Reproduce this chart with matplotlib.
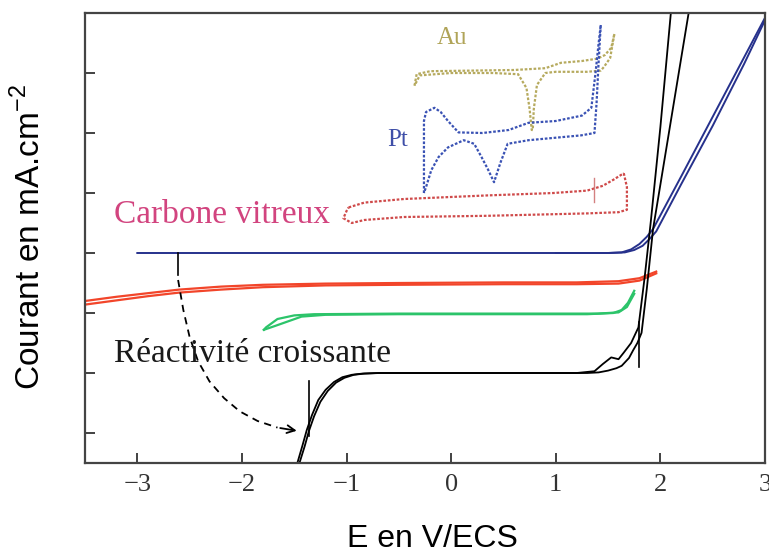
import matplotlib.pyplot as plt

plt.rcParams['mathtext.fontset'] = 'custom'
plt.rcParams['mathtext.rm'] = 'Liberation Sans'

# main curves: E (V/ECS) vs current (tick units)
blue_fwd_e = [-3.0, 0.0, 1.0, 1.5, 1.63, 1.72, 1.80, 1.87, 1.93, 2.2, 2.5, 2.8, 3.0]
blue_fwd_i = [3.0, 3.0, 3.0, 3.0, 3.01, 3.06, 3.15, 3.27, 3.40, 4.28, 5.27, 6.26, 6.92]
blue_rev_e = [3.0, 2.8, 2.5, 2.2, 1.96, 1.90, 1.83, 1.75, 1.66, 1.5, 1.0]
blue_rev_i = [6.88, 6.15, 5.12, 4.15, 3.36, 3.24, 3.12, 3.05, 3.01, 3.0, 3.0]

red_fwd_e = [-3.5, -3.2, -2.9, -2.6, -2.2, -1.8, -1.2, -0.5, 0.5, 1.2, 1.6, 1.8, 1.96]
red_fwd_i = [2.20, 2.27, 2.33, 2.39, 2.44, 2.47, 2.49, 2.50, 2.51, 2.51, 2.53, 2.58, 2.69]
red_rev_e = [1.96, 1.8, 1.6, 1.2, 0.5, -0.5, -1.2, -1.8, -2.2, -2.6, -2.9, -3.2, -3.5]
red_rev_i = [2.66, 2.54, 2.49, 2.48, 2.48, 2.47, 2.46, 2.43, 2.39, 2.34, 2.28, 2.21, 2.14]

green_fwd_e = [-1.79, -1.69, -1.56, -1.43, -1.2, -0.5, 0.5, 1.3, 1.55, 1.63, 1.69, 1.75]
green_fwd_i = [1.72, 1.78, 1.86, 1.94, 1.97, 1.98, 1.98, 1.98, 2.0, 2.05, 2.17, 2.37]
green_rev_e = [1.75, 1.68, 1.6, 1.4, 0.5, -0.5, -1.31, -1.50, -1.66, -1.77, -1.79]
green_rev_i = [2.32, 2.1, 2.01, 1.99, 1.99, 1.99, 1.98, 1.96, 1.90, 1.76, 1.72]

black_a_e = [-1.47, -1.42, -1.38, -1.33, -1.27, -1.2, -1.12, -1.04, -0.95, -0.85, -0.7, 0.0, 0.8,
             1.3, 1.41, 1.5, 1.58, 1.63, 1.70, 1.74, 1.78, 1.82, 1.87, 1.93, 2.0, 2.1, 2.2, 2.27]
black_a_i = [-0.5, -0.2, 0.05, 0.3, 0.55, 0.72, 0.85, 0.93, 0.97, 0.99, 1.0, 1.0, 1.0,
             1.0, 1.01, 1.04, 1.08, 1.12, 1.25, 1.38, 1.5, 1.67, 2.4, 3.4, 4.14, 5.2, 6.26, 7.0]
black_b_e = [-1.45, -1.40, -1.36, -1.31, -1.25, -1.18, -1.10, -1.02, -0.93, -0.83, -0.68, 0.0, 0.8,
             1.2, 1.37, 1.45, 1.53, 1.6, 1.65, 1.72, 1.79, 1.85, 1.91, 2.0, 2.1]
black_b_i = [-0.5, -0.22, 0.03, 0.28, 0.52, 0.7, 0.84, 0.92, 0.97, 0.99, 1.0, 1.0, 1.0,
             1.0, 1.03, 1.15, 1.26, 1.23, 1.34, 1.5, 1.76, 2.6, 3.55, 5.1, 7.0]

# vertical marks and the dashed arrow
blue_mark_e, blue_mark_i = [-2.61, -2.61], [3.0, 2.64]
black_mark1_e, black_mark1_i = [-1.36, -1.36], [0.86, -0.05]
black_mark2_e, black_mark2_i = [1.80, 1.80], [1.1, 1.85]
arrow_e = [-2.61, -2.56, -2.50, -2.42, -2.31, -2.17, -2.02, -1.85, -1.66, -1.45]
arrow_i = [2.55, 2.05, 1.60, 1.20, 0.86, 0.58, 0.36, 0.20, 0.09, 0.03]

# small voltammograms drawn as dotted traces
au_fwd_e = [-0.35, -0.33, -0.2, 0.2, 0.6, 0.9, 1.05, 1.25, 1.40, 1.47, 1.53, 1.56]
au_fwd_i = [5.79, 5.98, 6.03, 6.04, 6.05, 6.08, 6.17, 6.2, 6.24, 6.3, 6.42, 6.65]
au_rev_e = [1.56, 1.52, 1.46, 1.43, 1.3, 1.0, 0.9, 0.82, 0.79, 0.78, 0.77, 0.75, 0.72, 0.64, 0.4, 0.0, -0.3, -0.35]
au_rev_i = [6.65, 6.25, 6.1, 6.04, 6.02, 6.02, 6.0, 5.8, 5.4, 5.05, 5.05, 5.4, 5.75, 5.98, 6.0, 6.0, 5.96, 5.79]

pt_fwd_e = [-0.26, -0.26, -0.24, -0.16, -0.10, -0.03, 0.07, 0.3, 0.55, 0.74, 1.0, 1.25, 1.34, 1.38, 1.41, 1.43]
pt_fwd_i = [4.0, 5.2, 5.35, 5.42, 5.35, 5.2, 5.01, 5.0, 5.05, 5.17, 5.2, 5.29, 5.42, 6.0, 6.5, 6.8]
pt_rev_e = [1.43, 1.41, 1.39, 1.37, 1.24, 0.74, 0.54, 0.47, 0.41, 0.35, 0.29, 0.22, 0.12, -0.03, -0.12, -0.19, -0.24, -0.26]
pt_rev_i = [6.8, 6.2, 5.5, 5.0, 4.96, 4.88, 4.82, 4.5, 4.18, 4.4, 4.6, 4.82, 4.88, 4.76, 4.6, 4.38, 4.1, 4.0]

gc_fwd_e = [-0.98, -0.83, -0.45, 0.35, 0.98, 1.30, 1.45, 1.55, 1.65]
gc_fwd_i = [3.76, 3.84, 3.9, 3.96, 4.0, 4.04, 4.12, 4.22, 4.33]
gc_rev_e = [1.65, 1.68, 1.68, 1.6, 1.3, 0.35, -0.45, -0.83, -0.95, -1.03, -1.0, -0.98]
gc_rev_i = [4.33, 4.1, 3.72, 3.68, 3.66, 3.62, 3.6, 3.55, 3.5, 3.58, 3.7, 3.76]
gc_mark_e, gc_mark_i = [1.37, 1.37], [3.85, 4.25]

xticks = [-3, -2, -1, 0, 1, 2, 3]
xtick_labels = ['\u22123', '\u22122', '\u22121', '0', '1', '2', '3']
yticks = [0, 1, 2, 3, 4, 5, 6]

fig = plt.figure(figsize=(7.69, 5.59), dpi=100)
ax = fig.add_axes([85 / 769, 96 / 559, 680 / 769, 450 / 559])

c_blue, c_red, c_green = '#26318c', '#f2452a', '#2cc46a'
ax.plot(blue_fwd_e, blue_fwd_i, color=c_blue, lw=1.4)
ax.plot(blue_rev_e, blue_rev_i, color=c_blue, lw=1.4)
ax.plot(red_fwd_e, red_fwd_i, color=c_red, lw=1.6)
ax.plot(red_rev_e, red_rev_i, color=c_red, lw=1.6)
ax.plot(green_fwd_e, green_fwd_i, color=c_green, lw=1.6)
ax.plot(green_rev_e, green_rev_i, color=c_green, lw=1.6)
ax.plot(black_a_e, black_a_i, color='black', lw=1.3)
ax.plot(black_b_e, black_b_i, color='black', lw=1.3)
ax.plot(blue_mark_e, blue_mark_i, color='black', lw=1.2)
ax.plot(black_mark1_e, black_mark1_i, color='black', lw=1.2)
ax.plot(black_mark2_e, black_mark2_i, color='black', lw=1.2)

ax.plot(arrow_e[:-1], arrow_i[:-1], color='black', lw=1.3, dashes=(4, 3))
ax.annotate('', xy=(arrow_e[-1], arrow_i[-1]), xytext=(arrow_e[-2], arrow_i[-2]),
            arrowprops=dict(arrowstyle='->', color='black', lw=1.3, mutation_scale=14))

dot = dict(lw=1.6, ls=(0, (1.2, 0.8)))
ax.plot(au_fwd_e, au_fwd_i, color='#b6aa5e', **dot)
ax.plot(au_rev_e, au_rev_i, color='#b6aa5e', **dot)
ax.plot(pt_fwd_e, pt_fwd_i, color='#3a52b4', **dot)
ax.plot(pt_rev_e, pt_rev_i, color='#3a52b4', **dot)
ax.plot(gc_fwd_e, gc_fwd_i, color='#cf4a4a', **dot)
ax.plot(gc_rev_e, gc_rev_i, color='#cf4a4a', **dot)
ax.plot(gc_mark_e, gc_mark_i, color='#d48080', lw=1.0)

serif = 'Liberation Serif'
ax.text(0.01, 6.48, 'Au', color='#b0a458', fontsize=18, family=serif, ha='center', va='baseline')
ax.text(-0.51, 4.79, 'Pt', color='#3f4fa8', fontsize=18, family=serif, ha='center', va='baseline')
ax.text(-3.22, 3.50, 'Carbone vitreux', color='#d2447f', fontsize=24, family=serif, va='baseline')
ax.text(-3.22, 1.19, 'Réactivité croissante', color='#1a1a1a', fontsize=24, family=serif, va='baseline')

ax.set_xlim(-3.5, 3.0)
ax.set_ylim(-0.5, 7.0)
ax.set_xticks(xticks)
ax.set_xticklabels(xtick_labels, family=serif, fontsize=19, color='#333333')
ax.set_yticks(yticks)
ax.set_yticklabels([])
ax.tick_params(direction='in', length=7, width=1.3, color='#333333', pad=8)
for s in ax.spines.values():
    s.set_color('#444444')
    s.set_linewidth(1.6)

fig.text(432 / 769, 1 - 539 / 559, 'E en V/ECS', family='Liberation Sans', fontsize=23,
         ha='center', va='center')
fig.text(30 / 769, 1 - 237 / 559, r'Courant en mA.cm$^{\mathregular{-2}}$', family='Liberation Sans',
         fontsize=24, rotation=90, ha='center', va='center')

fig.savefig('out.png', dpi=100)
